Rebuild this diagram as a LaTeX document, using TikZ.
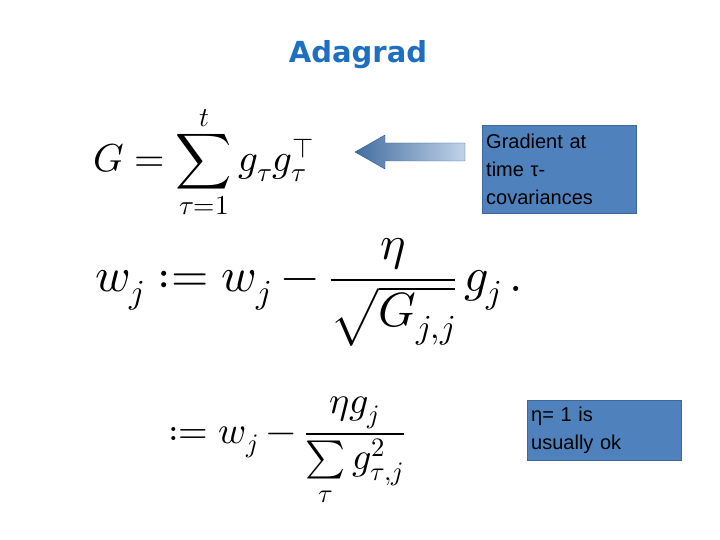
\documentclass[tikz,border=0pt]{standalone}
\usepackage{fontspec}
\usepackage{amsmath}
\usepackage{unicode-math}
\setmathfont{Latin Modern Math}
\setsansfont{Liberation Sans}
\newfontfamily\titlefont{DejaVu Sans}
\definecolor{titleblue}{HTML}{1F6FC0}
\definecolor{boxblue}{HTML}{4F81BD}
\tikzset{
  eq/.style={inner sep=0pt,anchor=west},
  infobox/.style={fill=boxblue,draw=boxblue!80!black,text=black,font=\sffamily\fontsize{20}{28}\selectfont,align=left,anchor=north west,inner sep=4pt,text width=#1},
}
\begin{document}
\begin{tikzpicture}[x=1pt,y=-1pt]
\useasboundingbox (0,0) rectangle (720,540);
\node (title) at (358,55) {\titlefont\bfseries\fontsize{29}{32}\selectfont\textcolor{titleblue}{Adagrad}};
\node[eq] (eqG) at (93,162) {\fontsize{39}{44}\selectfont$\displaystyle G=\sum_{\tau=1}^{t} g_\tau g_\tau^{\top}$};
\node[infobox=146pt,minimum height=88pt] (box1) at (482,125) {Gradient at\\time τ-\\covariances};
\coordinate (tip) at (355,152);
\shade[left color=boxblue!85!black,right color=boxblue!35,draw=boxblue!70!black]
  (tip) -- ++(30,-17) -- ++(0,8) -- (465,143) -- (465,161) -- (385,161) -- ++(0,8) -- cycle;
\node[eq] (eqW) at (95,292) {\fontsize{48}{52}\selectfont$\displaystyle w_j := w_j - \frac{\eta}{\sqrt{G_{j,j}}}\,g_j\,.$};
\node[eq] (eqW2) at (168,452) {\fontsize{38}{42}\selectfont$\displaystyle := w_j - \frac{\eta g_j}{\sum\limits_{\tau} g_{\tau,j}^2}$};
\node[infobox=146pt,minimum height=60pt] (box2) at (527,400) {η= 1 is\\usually ok};
\end{tikzpicture}
\end{document}
